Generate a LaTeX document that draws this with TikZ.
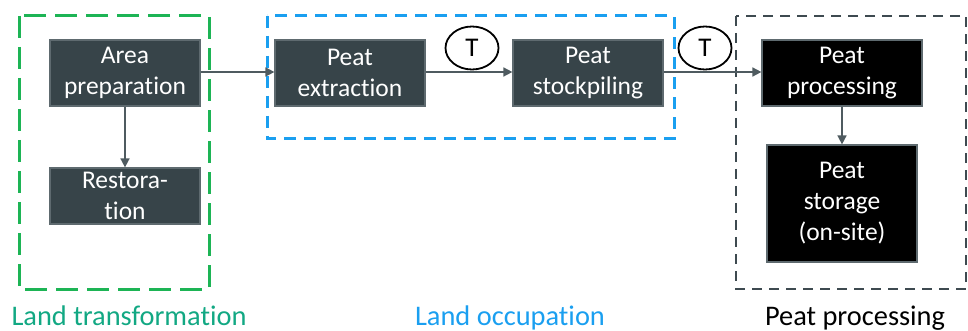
\documentclass[tikz,border=0pt]{standalone}
\usepackage{fontspec}
\setmainfont{Carlito}[Ligatures={NoCommon,NoRare}]
\usetikzlibrary{shapes.geometric,arrows.meta}
% keep t and i as separate glyphs
\newcommand\tiapart{t\kern0pt i}
\definecolor{boxfill}{HTML}{374449}
\definecolor{boxedge}{HTML}{5E6A6F}
\definecolor{arrowcol}{HTML}{4F5B60}
\definecolor{ltgreen}{HTML}{1DB455}
\definecolor{ltlabel}{HTML}{12A883}
\definecolor{lublue}{HTML}{1A9FF0}
\definecolor{ppgray}{HTML}{3E4A50}
\tikzset{
  stepbox/.style={draw=boxedge, line width=0.6pt, fill=boxfill, text=white,
    align=center, inner sep=1pt, font=\fontsize{12.75}{15.5}\selectfont},
  blackbox/.style={stepbox, fill=black},
  tmark/.style={draw=black, line width=0.9pt, ellipse, minimum width=26.5pt,
    minimum height=21.5pt, inner sep=0pt, font=\fontsize{13.5}{15.5}\selectfont},
  flow/.style={draw=arrowcol, line width=0.8pt, -{Triangle[length=4.5pt,width=4.5pt]}},
  grouplabel/.style={font=\fontsize{14.2}{17}\selectfont, anchor=base},
}
\begin{document}
\begin{tikzpicture}[x=0.5pt, y=-0.5pt]
\useasboundingbox (0,0) rectangle (968,331);

% stage frames
\draw[ltgreen, line width=1.5pt, dash pattern=on 11pt off 4.5pt] (19,16) rectangle (209,289);
\draw[lublue, line width=1.5pt, dash pattern=on 6pt off 4pt] (267,16) rectangle (674,139);
\draw[ppgray, line width=1.3pt, dash pattern=on 5pt off 3.5pt] (736,16) rectangle (966,289);

% process steps
\node[stepbox, minimum width=75pt, minimum height=33pt] (area) at (125,73) {Area\\prepara\tiapart on};
\node[stepbox, minimum width=75pt, minimum height=28pt] (resto) at (125,196) {Restora-\\\tiapart on};
\node[stepbox, minimum width=75pt, minimum height=33pt] (extr) at (350,73) {Peat\\extrac\tiapart on};
\node[stepbox, minimum width=75pt, minimum height=33pt] (stock) at (588,73) {Peat\\stockpiling};
\node[blackbox, minimum width=80pt, minimum height=33pt] (proc) at (842,73) {Peat\\processing};
\node[blackbox, minimum width=75pt, minimum height=58.5pt] (store) at (842,203.5) {Peat\\storage\\(on-site)};

% transport markers
\node[tmark] (t1) at (472,48) {T};
\node[tmark] (t2) at (705,48) {T};

% flows
\draw[flow] (area.east |- 0,72) -- (extr.west |- 0,72);
\draw[flow] (extr.east |- 0,72) -- (stock.west |- 0,72);
\draw[flow] (stock.east |- 0,72) -- (proc.west |- 0,72);
\draw[flow] (area.south) -- (resto.north);
\draw[flow] (proc.south) -- (store.north);

% stage labels
\node[grouplabel, text=ltlabel] (lab1) at (129,325) {Land transforma\tiapart on};
\node[grouplabel, text=lublue] (lab2) at (510,325) {Land occupa\tiapart on};
\node[grouplabel, text=black] (lab3) at (855,325) {Peat processing};
\end{tikzpicture}
\end{document}
